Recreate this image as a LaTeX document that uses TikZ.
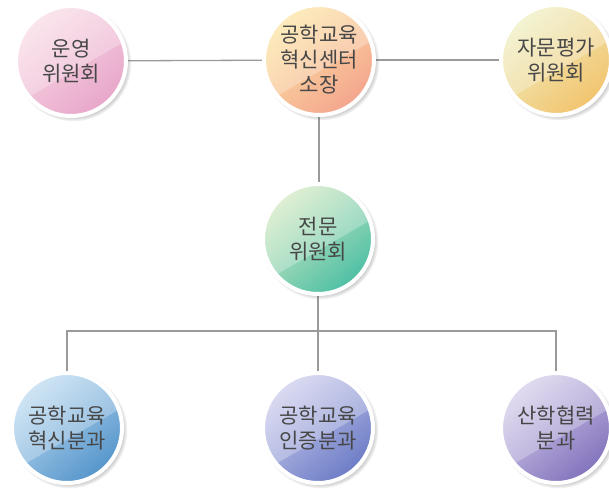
\documentclass[tikz,border=0pt]{standalone}
\usepackage{fontspec}
\newfontfamily\kr{Noto Sans CJK KR}
\usetikzlibrary{shadows,backgrounds,calc,fadings}
\definecolor{pinkA}{HTML}{F9DDE6}\definecolor{pinkB}{HTML}{E8A6CA}
\definecolor{orA}{HTML}{FCE6A4}\definecolor{orB}{HTML}{F4A58E}
\definecolor{yeA}{HTML}{EFF0C5}\definecolor{yeB}{HTML}{F2C46E}
\definecolor{grA}{HTML}{D6EBC4}\definecolor{grB}{HTML}{4EBFA5}
\definecolor{blA}{HTML}{C0DDF2}\definecolor{blB}{HTML}{5595CB}
\definecolor{laA}{HTML}{CFCFEE}\definecolor{laB}{HTML}{6C7CC6}
\definecolor{puA}{HTML}{D8D0EC}\definecolor{puB}{HTML}{8373BD}
\definecolor{linec}{HTML}{9A9A9A}
\tikzset{
  bubble/.style n args={2}{circle, minimum size=110pt, inner sep=0pt,
    draw=white, line width=4pt,
    top color=#1, bottom color=#2, shading angle=40,
    circular drop shadow={shadow scale=1.06, shadow xshift=2pt, shadow yshift=-2pt, fill=black!60, opacity=0.6},
    path picture={\fill[white,opacity=0.26] ($(path picture bounding box.center)+(-70,-52)$) -- ++(140,81) -- ++(0,90) -- ++(-140,0) -- cycle;},
    font=\kr\fontsize{21}{25}\selectfont, text=black!72, align=center},
  conn/.style={draw=linec, line width=1.3pt}
}
\begin{document}
\begin{tikzpicture}[x=1pt,y=1pt]
\useasboundingbox (0,0) rectangle (609,-488);
\node[bubble={pinkA}{pinkB}] (L) at (71,-61) {운영\\위원회};
\node[bubble={orA}{orB}] (C) at (319,-60) {공학교육\\혁신센터\\소장};
\node[bubble={yeA}{yeB}] (R) at (556,-60) {자문평가\\위원회};
\node[bubble={grA}{grB}] (M) at (318,-239) {전문\\위원회};
\node[bubble={blA}{blB}] (B1) at (67,-428) {공학교육\\혁신분과};
\node[bubble={laA}{laB}] (B2) at (318,-428) {공학교육\\인증분과};
\node[bubble={puA}{puB}] (B3) at (556,-428) {산학협력\\분과};
\coordinate (bus) at (318,-331);
\begin{scope}[on background layer]
\draw[conn] (L) -- (C);
\draw[conn] (C) -- (R);
\draw[conn] (C.south) -- (C.south |- M.north);
\draw[conn] (M.south -| bus) -- (bus);
\draw[conn] (B1) |- (bus) -| (B3);
\draw[conn] (bus) -- (B2);
\end{scope}
\end{tikzpicture}
\end{document}
